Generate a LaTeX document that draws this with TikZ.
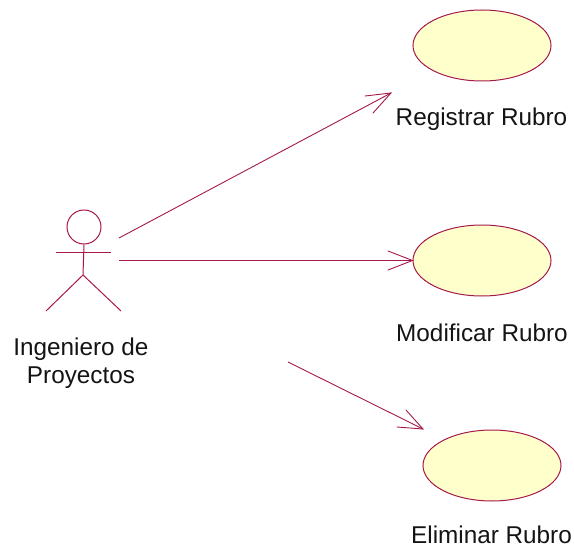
\documentclass[tikz,border=0pt]{standalone}
\usepackage{fontspec}
\setmainfont{Liberation Sans}
\definecolor{umlline}{RGB}{165,25,75}
\definecolor{umlfill}{RGB}{255,255,204}
\tikzset{
  usecase/.style={ellipse,draw=umlline,fill=umlfill,line width=1pt,minimum width=138pt,minimum height=71pt,inner sep=0pt},
  limb/.style={draw=umlline,line width=1pt},
  assoc/.style={draw=umlline,line width=0.9pt},
  barb/.style={draw=umlline,line width=0.9pt,line cap=round},
  lbl/.style={font=\fontsize{24.3}{28.5}\selectfont,text=black!92,inner sep=0pt,align=center}
}
\usetikzlibrary{shapes.geometric}
\begin{document}
\begin{tikzpicture}[x=1pt,y=-1pt]
\useasboundingbox (0,0) rectangle (574,551);
% use cases
\node[usecase] (uc1) at (482,45.5) {};
\node[usecase] (uc2) at (482,260.5) {};
\node[usecase] (uc3) at (492,465.5) {};
\node[lbl] (t1) at (481.5,119.5) {Registrar Rubro};
\node[lbl] (t2) at (482,333) {Modificar Rubro};
\node[lbl] (t3) at (491.5,535) {Eliminar Rubro};
% actor
\node[circle,draw=umlline,line width=1pt,minimum size=34pt,inner sep=0pt] (head) at (84,227) {};
\coordinate (hip) at (83,275);
\coordinate (armL) at (56,252);
\coordinate (armR) at (111,252);
\coordinate (footL) at (46,311);
\coordinate (footR) at (121,311);
\draw[limb] (head.south) -- (hip);
\draw[limb] (armL) -- (armR);
\draw[limb] (footL) -- (hip) -- (footR);
\node[lbl] (actor) at (81,363) {Ingeniero de\\Proyectos};
% associations
\coordinate (a1) at (119,238);
\coordinate (a2) at (119,260.5);
\coordinate (a3) at (288,362);
\coordinate (tip1) at (391,93);
\coordinate (tip3) at (423,429);
\draw[assoc] (a1) -- (tip1);
\draw[barb] (365,96) -- (tip1) -- (373,113);
\draw[assoc] (a2) -- (uc2.west);
\draw[barb] (388,251) -- (uc2.west) -- (388,270);
\draw[assoc] (a3) -- (tip3);
\draw[barb] (406,410) -- (tip3) -- (397,427);
\end{tikzpicture}
\end{document}
